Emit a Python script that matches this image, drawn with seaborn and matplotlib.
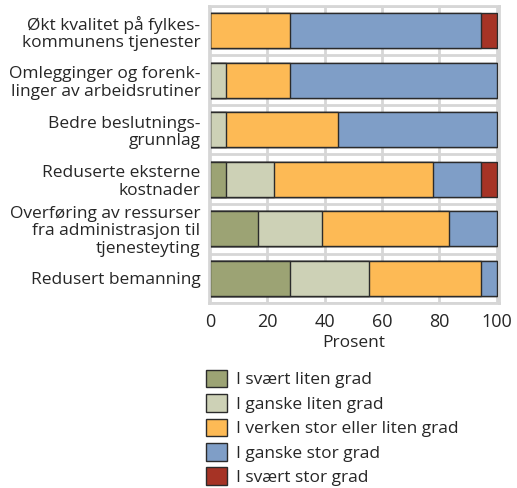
import matplotlib
matplotlib.use("Agg")
import matplotlib.pyplot as plt
import seaborn as sns
import pandas as pd
import numpy as np
from matplotlib.patches import Patch

# data (prosent)
categories = [
    "Økt kvalitet på fylkes-\nkommunens tjenester",
    "Omlegginger og forenk-\nlinger av arbeidsrutiner",
    "Bedre beslutnings-\ngrunnlag",
    "Reduserte eksterne\nkostnader",
    "Overføring av ressurser\nfra administrasjon til\ntjenesteyting",
    "Redusert bemanning",
]
levels = [
    "I svært liten grad",
    "I ganske liten grad",
    "I verken stor eller liten grad",
    "I ganske stor grad",
    "I svært stor grad",
]
svaert_liten = [0.0, 0.0, 0.0, 5.6, 16.7, 27.8]
ganske_liten = [0.0, 5.6, 5.6, 16.7, 22.2, 27.8]
verken = [27.8, 22.2, 38.9, 55.6, 44.4, 38.9]
ganske_stor = [66.7, 72.2, 55.5, 16.7, 16.7, 5.5]
svaert_stor = [5.5, 0.0, 0.0, 5.4, 0.0, 0.0]
colors = ["#9ca374", "#cdd1b6", "#fdba55", "#7f9ec7", "#a63325"]

sns.set_theme(style="white")
plt.rcParams["font.family"] = ["Open Sans", "DejaVu Sans"]

df = pd.DataFrame({"kategori": categories, levels[0]: svaert_liten, levels[1]: ganske_liten,
                   levels[2]: verken, levels[3]: ganske_stor, levels[4]: svaert_stor})
cum = df[levels].cumsum(axis=1)

fig = plt.figure(figsize=(5.17, 4.88), dpi=100)
ax = fig.add_axes([0.404, 0.379, 0.561, 0.609])

grid_c = "#d6d6d6"
for xv in range(0, 101, 20):
    ax.axvline(xv, color=grid_c, lw=2, zorder=0)
for yv in np.arange(-0.5, len(categories), 1.0):
    ax.axhline(yv, color=grid_c, lw=2, zorder=0)

for lev, col in reversed(list(zip(levels, colors))):
    sns.barplot(x=cum[lev], y=df["kategori"], color=col, orient="h", width=0.71,
                edgecolor="#2b2b2b", linewidth=1.0, saturation=1, ax=ax, zorder=2)

txt_c = "#262626"
ax.set_xlim(-0.4, 100.8)
ax.set_ylim(len(categories) - 0.5, -0.5)
ax.set_xticks(range(0, 101, 20))
ax.set_xlabel("Prosent", fontsize=12.5, labelpad=3, color=txt_c)
ax.set_ylabel("")
ax.tick_params(axis="x", length=0, labelsize=13, colors=txt_c, pad=7)
ax.tick_params(axis="y", length=0, labelsize=12.5, colors=txt_c, pad=6)
for lab in ax.get_yticklabels():
    lab.set_horizontalalignment("right")
    lab.set_linespacing(1.12)
for s in ax.spines.values():
    s.set_color(grid_c)
    s.set_linewidth(2)

handles = [Patch(facecolor=c, edgecolor="#2b2b2b", lw=1.0) for c in colors]
fig.legend(handles, levels, loc="upper left", bbox_to_anchor=(0.385, 0.257), frameon=False,
           fontsize=12.5, handlelength=1.2, handleheight=1.2, handletextpad=0.5,
           labelspacing=0.33, borderaxespad=0, labelcolor=txt_c)

fig.savefig("out.png", dpi=100)
